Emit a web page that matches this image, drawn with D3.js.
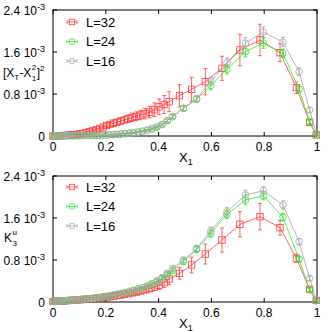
<!DOCTYPE html>
<html><head><meta charset="utf-8">
<script src="https://cdn.jsdelivr.net/npm/d3@7"></script>
<style>body{margin:0;background:#fff}svg{display:block}text{font-family:"Liberation Sans",Arial,sans-serif;fill:#000}</style>
</head><body>
<svg id="c" width="332" height="332"></svg>
<script>
// X1 grid for L=32 and for L=24 / L=16
const x32 = [0,0.006,0.012,0.019,0.026,0.034,0.042,0.051,0.06,0.07,0.08,0.091,0.102,0.114,0.126,0.138,0.151,0.164,0.177,0.19,0.203,0.216,0.229,0.242,0.256,0.27,0.285,0.3,0.316,0.332,0.349,0.366,0.384,0.402,0.421,0.44,0.479,0.525,0.577,0.64,0.708,0.784,0.86,0.922,0.972,0.997];
const xC = [0,0.007,0.014,0.021,0.029,0.037,0.046,0.055,0.065,0.075,0.086,0.097,0.109,0.121,0.133,0.146,0.159,0.172,0.186,0.2,0.214,0.228,0.243,0.258,0.273,0.289,0.305,0.322,0.339,0.357,0.375,0.394,0.413,0.433,0.453,0.494,0.544,0.598,0.659,0.729,0.797,0.871,0.932,0.972,0.997];

// top panel [X_T - X_1^2]^2 (units 1e-3)
const topL32 = [0.002,0.003,0.004,0.005,0.006,0.008,0.01,0.012,0.015,0.019,0.024,0.03,0.04,0.052,0.066,0.082,0.1,0.12,0.145,0.17,0.2,0.22,0.245,0.262,0.285,0.305,0.33,0.355,0.375,0.4,0.425,0.455,0.5,0.555,0.6,0.653,0.768,0.889,1.034,1.29,1.638,1.829,1.587,0.92,0.26,0.02];
const topL32err = [0.003,0.003,0.003,0.003,0.004,0.004,0.005,0.005,0.006,0.007,0.008,0.01,0.012,0.014,0.016,0.018,0.02,0.023,0.026,0.03,0.034,0.038,0.045,0.05,0.056,0.062,0.07,0.08,0.085,0.09,0.1,0.11,0.13,0.15,0.17,0.19,0.21,0.23,0.25,0.23,0.3,0.3,0.17,0.11,0.05,0.01];
const topL24 = [0.003,0.003,0.003,0.003,0.003,0.004,0.004,0.004,0.005,0.005,0.006,0.006,0.007,0.008,0.009,0.01,0.012,0.014,0.016,0.019,0.022,0.027,0.032,0.038,0.046,0.052,0.06,0.075,0.09,0.11,0.135,0.17,0.215,0.29,0.368,0.528,0.699,0.96,1.27,1.606,1.77,1.575,0.89,0.27,0.02];
const topL24err = [0.002,0.002,0.002,0.002,0.002,0.002,0.002,0.002,0.002,0.002,0.003,0.003,0.003,0.003,0.003,0.004,0.004,0.004,0.005,0.005,0.006,0.006,0.007,0.008,0.009,0.01,0.011,0.012,0.014,0.016,0.018,0.02,0.024,0.03,0.035,0.045,0.06,0.08,0.09,0.1,0.1,0.08,0.06,0.03,0.01];
const topL16 = [0.003,0.003,0.003,0.003,0.003,0.004,0.004,0.004,0.005,0.005,0.006,0.006,0.007,0.008,0.009,0.01,0.012,0.014,0.016,0.019,0.022,0.027,0.032,0.038,0.046,0.053,0.062,0.077,0.093,0.113,0.138,0.175,0.22,0.295,0.368,0.528,0.71,1.04,1.4,1.77,1.98,1.79,1.225,0.495,0.05];
const topL16err = [0.002,0.002,0.002,0.002,0.002,0.002,0.002,0.002,0.002,0.002,0.003,0.003,0.003,0.003,0.003,0.004,0.004,0.004,0.005,0.005,0.006,0.006,0.007,0.008,0.009,0.01,0.011,0.012,0.014,0.016,0.018,0.02,0.024,0.03,0.035,0.045,0.06,0.08,0.09,0.1,0.1,0.09,0.07,0.04,0.01];

// bottom panel K_3^u (units 1e-3)
const botL32 = [0.01,0.012,0.014,0.016,0.018,0.02,0.022,0.025,0.028,0.031,0.035,0.039,0.043,0.048,0.053,0.058,0.064,0.07,0.077,0.085,0.093,0.102,0.111,0.121,0.132,0.144,0.158,0.173,0.19,0.21,0.232,0.256,0.285,0.32,0.37,0.438,0.546,0.705,0.914,1.181,1.48,1.625,1.415,0.832,0.242,0.03];
const botL32err = [0.002,0.002,0.002,0.002,0.003,0.003,0.003,0.004,0.004,0.005,0.005,0.006,0.007,0.008,0.009,0.01,0.011,0.013,0.015,0.017,0.019,0.021,0.024,0.027,0.03,0.033,0.036,0.04,0.045,0.05,0.055,0.06,0.07,0.08,0.095,0.11,0.11,0.15,0.19,0.23,0.24,0.25,0.14,0.08,0.04,0.01];
const botL24 = [0.012,0.014,0.016,0.018,0.02,0.023,0.026,0.029,0.032,0.036,0.04,0.045,0.05,0.056,0.062,0.069,0.077,0.085,0.095,0.106,0.118,0.131,0.146,0.162,0.18,0.2,0.222,0.246,0.272,0.3,0.34,0.395,0.45,0.52,0.597,0.768,1.0,1.305,1.67,1.943,2.025,1.613,0.819,0.229,0.02];
const botL24err = [0.002,0.002,0.002,0.002,0.002,0.002,0.003,0.003,0.003,0.003,0.004,0.004,0.004,0.005,0.005,0.006,0.006,0.007,0.008,0.009,0.01,0.011,0.012,0.013,0.014,0.016,0.018,0.02,0.022,0.025,0.028,0.032,0.036,0.04,0.045,0.05,0.06,0.07,0.08,0.09,0.08,0.07,0.05,0.03,0.01];
const botL16 = [0.012,0.014,0.016,0.018,0.02,0.023,0.026,0.029,0.032,0.036,0.04,0.045,0.05,0.056,0.062,0.069,0.077,0.085,0.095,0.106,0.118,0.131,0.146,0.162,0.18,0.2,0.222,0.246,0.272,0.305,0.35,0.405,0.465,0.545,0.64,0.8,1.02,1.358,1.72,2.038,2.12,1.848,1.149,0.451,0.04];
const botL16err = [0.002,0.002,0.002,0.002,0.002,0.002,0.003,0.003,0.003,0.003,0.004,0.004,0.004,0.005,0.005,0.006,0.006,0.007,0.008,0.009,0.01,0.011,0.012,0.013,0.014,0.016,0.018,0.02,0.022,0.025,0.028,0.032,0.036,0.04,0.045,0.05,0.06,0.07,0.08,0.09,0.08,0.08,0.06,0.04,0.01];

const seriesNames = ["L=32","L=24","L=16"];
const xTicks = [0,0.2,0.4,0.6,0.8,1];
const xTickLabels = ["0","0.2","0.4","0.6","0.8","1"];
const yTicks = [0,0.8,1.6,2.4];
const yTickLabels = ["0","0.8","1.6","2.4"];

const colors = ["#ff3c3c","#33e633","#a6a6a6"];
const shapes = ["square","circle","circle"];

const svg = d3.select("#c");
const x = d3.scaleLinear().domain([0,1]).range([53,317]);

function panel(top, bottom, data, titleFn, legendY){
  const y = d3.scaleLinear().domain([0,2.4]).range([bottom, top]);
  const g = svg.append("g");
  g.append("rect").attr("x",x(0)).attr("y",y(2.4)).attr("width",x(1)-x(0)).attr("height",y(0)-y(2.4))
    .attr("fill","none").attr("stroke","#000").attr("stroke-width",1);
  const tl = 4;
  xTicks.forEach((t,i)=>{
    g.append("line").attr("x1",x(t)).attr("x2",x(t)).attr("y1",y(0)).attr("y2",y(0)-tl).attr("stroke","#000");
    g.append("line").attr("x1",x(t)).attr("x2",x(t)).attr("y1",y(2.4)).attr("y2",y(2.4)+tl).attr("stroke","#000");
    g.append("text").attr("x",x(t)).attr("y",y(0)+15).attr("text-anchor","middle").attr("font-size",12).text(xTickLabels[i]);
  });
  yTicks.forEach((t,i)=>{
    g.append("line").attr("x1",x(0)).attr("x2",x(0)+tl).attr("y1",y(t)).attr("y2",y(t)).attr("stroke","#000");
    g.append("line").attr("x1",x(1)).attr("x2",x(1)-tl).attr("y1",y(t)).attr("y2",y(t)).attr("stroke","#000");
    const tx = g.append("text").attr("x",45).attr("y",y(t)+5).attr("text-anchor","end").attr("font-size",12);
    if(t===0){ tx.text(yTickLabels[i]); }
    else {
      tx.append("tspan").text(yTickLabels[i]+" 10");
      tx.append("tspan").attr("dy",-5).attr("font-size",9).text("-3");
    }
  });
  const xt = g.append("text").attr("x",179).attr("y",y(0)+26).attr("font-size",13);
  xt.append("tspan").text("X");
  xt.append("tspan").attr("dy",3).attr("font-size",9).text("1");
  titleFn(g, y);

  data.forEach((s,k)=>{
    const c = colors[k];
    const sg = g.append("g");
    const pts = s.x.map((xv,i)=>({x:xv,y:s.y[i],e:s.e[i]}));
    sg.append("path").datum(pts).attr("fill","none").attr("stroke",c).attr("stroke-width",0.8)
      .attr("d", d3.line().x(d=>x(d.x)).y(d=>y(d.y)));
    pts.forEach(d=>{
      const px=x(d.x), y1=y(d.y-d.e), y2=y(d.y+d.e);
      sg.append("line").attr("x1",px).attr("x2",px).attr("y1",y1).attr("y2",y2).attr("stroke",c).attr("stroke-width",0.8);
      sg.append("line").attr("x1",px-2).attr("x2",px+2).attr("y1",y1).attr("y2",y1).attr("stroke",c).attr("stroke-width",0.8);
      sg.append("line").attr("x1",px-2).attr("x2",px+2).attr("y1",y2).attr("y2",y2).attr("stroke",c).attr("stroke-width",0.8);
      marker(sg, px, y(d.y), k, 1);
    });
  });
  seriesNames.forEach((n,k)=>{
    const ly = legendY + k*19.5, lx = 72, c = colors[k];
    g.append("line").attr("x1",lx-5).attr("x2",lx+5).attr("y1",ly).attr("y2",ly).attr("stroke",c).attr("stroke-width",0.8);
    g.append("line").attr("x1",lx-5).attr("x2",lx-5).attr("y1",ly-2).attr("y2",ly+2).attr("stroke",c).attr("stroke-width",0.8);
    g.append("line").attr("x1",lx+5).attr("x2",lx+5).attr("y1",ly-2).attr("y2",ly+2).attr("stroke",c).attr("stroke-width",0.8);
    marker(g, lx, ly, k, 0.85);
    g.append("text").attr("x",86).attr("y",ly+4.5).attr("font-size",13).text(n);
  });
}
function marker(sel, px, py, k, s){
  if(shapes[k]==="square"){
    const h = 3.2*s;
    sel.append("rect").attr("x",px-h).attr("y",py-h).attr("width",2*h).attr("height",2*h)
      .attr("fill","none").attr("stroke",colors[k]).attr("stroke-width",0.8);
  } else {
    sel.append("circle").attr("cx",px).attr("cy",py).attr("r",3.3*s)
      .attr("fill","none").attr("stroke",colors[k]).attr("stroke-width",0.8);
  }
}

panel(10, 136, [
  {x:x32,y:topL32,e:topL32err},
  {x:xC,y:topL24,e:topL24err},
  {x:xC,y:topL16,e:topL16err}
], (g,y)=>{
  const t = g.append("text").attr("x",3).attr("y",77).attr("font-size",12);
  t.append("tspan").text("[X");
  t.append("tspan").attr("dy",3).attr("font-size",8).text("T");
  t.append("tspan").attr("dy",-3).text("-X");
  const w = t.node().getBBox();
  const sx = w.x + w.width + 0.5;
  g.append("text").attr("x",sx).attr("y",70).attr("font-size",8).text("2");
  g.append("text").attr("x",sx).attr("y",81).attr("font-size",8).text("1");
  const t2 = g.append("text").attr("x",sx+5).attr("y",77).attr("font-size",12);
  t2.append("tspan").text("]");
  t2.append("tspan").attr("dy",-6).attr("font-size",8).text("2");
}, 22);

panel(176, 302, [
  {x:x32,y:botL32,e:botL32err},
  {x:xC,y:botL24,e:botL24err},
  {x:xC,y:botL16,e:botL16err}
], (g,y)=>{
  const k = g.append("text").attr("x",4).attr("y",242).attr("font-size",12).text("K");
  const b = k.node().getBBox();
  const sx = b.x + b.width + 0.5;
  g.append("text").attr("x",sx).attr("y",235).attr("font-size",8).text("u");
  g.append("text").attr("x",sx).attr("y",246).attr("font-size",8).text("3");
}, 187);
</script>
</body></html>
